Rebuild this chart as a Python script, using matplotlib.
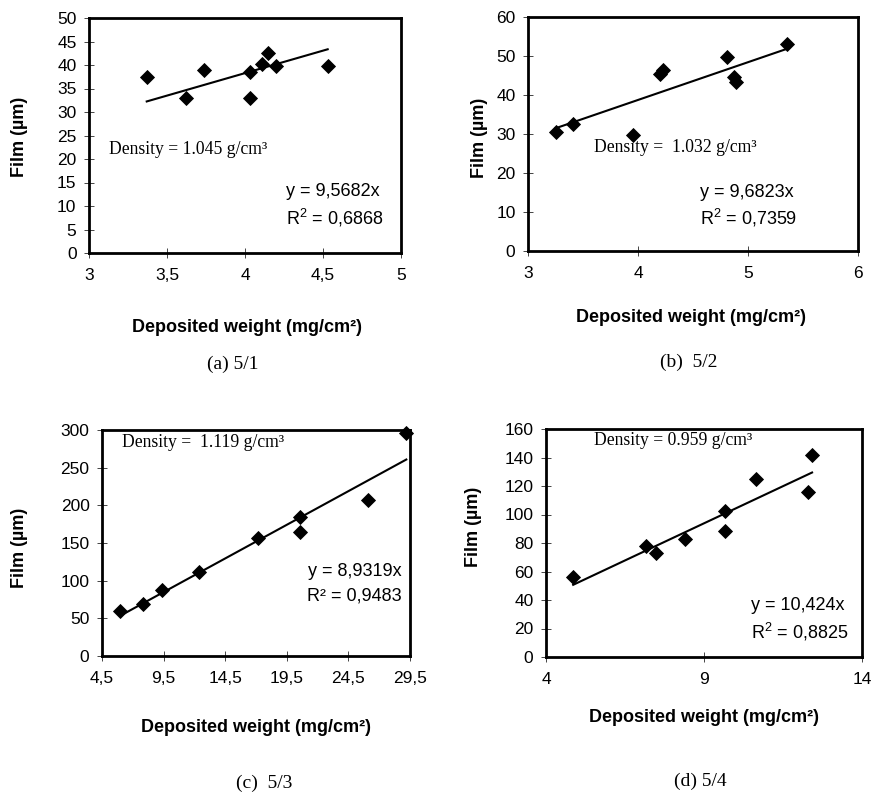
"""Film thickness vs deposited weight, four compositions (5/1 .. 5/4)."""

import matplotlib.pyplot as plt
import numpy as np
from matplotlib.ticker import FixedLocator, FuncFormatter

OUTPUT_PNG = "out.png"
FIG_W, FIG_H, DPI = 873, 792, 100

SANS = ["Liberation Sans", "DejaVu Sans"]
SERIF = ["Liberation Serif", "DejaVu Serif"]

XLABEL = "Deposited weight (mg/cm²)"
YLABEL = "Film (µm)"

# (a) 5/1
weight_a = [3.37, 3.62, 3.74, 4.03, 4.03, 4.11, 4.15, 4.20, 4.53]
film_a = [37.5, 33.0, 39.0, 38.5, 33.0, 40.3, 42.5, 39.8, 39.8]
slope_a = 9.5682
xticks_a = [3, 3.5, 4, 4.5, 5]
yticks_a = [0, 5, 10, 15, 20, 25, 30, 35, 40, 45, 50]
density_a = "Density = 1.045 g/cm³"
eq_a = "y = 9,5682x"
r2_a = r"$\mathregular{R^2}$ = 0,6868"
caption_a = "(a) 5/1"

# (b) 5/2
weight_b = [3.25, 3.41, 3.95, 4.20, 4.23, 4.81, 4.87, 4.89, 5.35]
film_b = [30.5, 32.6, 29.8, 45.3, 46.3, 49.8, 44.6, 43.4, 53.0]
slope_b = 9.6823
xticks_b = [3, 4, 5, 6]
yticks_b = [0, 10, 20, 30, 40, 50, 60]
density_b = "Density =  1.032 g/cm³"
eq_b = "y = 9,6823x"
r2_b = r"$\mathregular{R^2}$ = 0,7359"
caption_b = "(b)  5/2"

# (c) 5/3
weight_c = [6.0, 7.8, 9.4, 12.4, 17.2, 20.6, 20.6, 26.1, 29.2]
film_c = [60, 69, 87, 111, 157, 184, 164, 207, 296]
slope_c = 8.9319
xticks_c = [4.5, 9.5, 14.5, 19.5, 24.5, 29.5]
yticks_c = [0, 50, 100, 150, 200, 250, 300]
density_c = "Density =  1.119 g/cm³"
eq_c = "y = 8,9319x"
r2_c = "R² = 0,9483"
caption_c = "(c)  5/3"

# (d) 5/4
weight_d = [4.86, 7.18, 7.49, 8.39, 9.67, 9.67, 10.65, 12.28, 12.42]
film_d = [56, 78, 73, 83, 102.5, 88.5, 125, 116, 141.5]
slope_d = 10.424
xticks_d = [4, 9, 14]
yticks_d = [0, 20, 40, 60, 80, 100, 120, 140, 160]
density_d = "Density = 0.959 g/cm³"
eq_d = "y = 10,424x"
r2_d = r"$\mathregular{R^2}$ = 0,8825"
caption_d = "(d) 5/4"


def comma_fmt(v, _pos=None):
    return f"{v:g}".replace(".", ",")


def px_to_axes(box, px, py):
    left, top, right, bottom = box
    return (px - left) / (right - left), (bottom - py) / (bottom - top)


def draw_panel(fig, p):
    left, top, right, bottom = p["box"]
    ax = fig.add_axes([left / FIG_W, 1 - bottom / FIG_H,
                       (right - left) / FIG_W, (bottom - top) / FIG_H])
    x = np.asarray(p["x"], dtype=float)
    y = np.asarray(p["y"], dtype=float)

    xs = np.array([x.min(), x.max()])
    ax.plot(xs, p["slope"] * xs, color="black", lw=1.5, zorder=2)
    ax.plot(x, y, linestyle="none", marker="D", ms=7.4, mew=0.6,
            color="black", zorder=3, clip_on=False)

    ax.set_xlim(p["xticks"][0], p["xticks"][-1])
    ax.set_ylim(p["yticks"][0], p["yticks"][-1])
    ax.xaxis.set_major_locator(FixedLocator(p["xticks"]))
    ax.yaxis.set_major_locator(FixedLocator(p["yticks"]))
    ax.xaxis.set_major_formatter(FuncFormatter(comma_fmt))
    ax.yaxis.set_major_formatter(FuncFormatter(comma_fmt))
    ax.tick_params(axis="both", direction="inout", length=7, width=0.7,
                   color="#444444", labelsize=12.5)
    ax.tick_params(axis="x", pad=7)
    ax.tick_params(axis="y", pad=5.5)
    for lbl in ax.get_xticklabels() + ax.get_yticklabels():
        lbl.set_family(SANS)
    for sp in ax.spines.values():
        sp.set_linewidth(2)

    ax.text(*p["density_xy"], p["density"], family=SERIF, fontsize=12.7,
            ha="left", va="center")
    ex, ey, ry = p["eq_xy"]
    ha = p["eq_ha"]
    ax.text(ex, ey, p["eq"], family=SANS, fontsize=13, ha=ha, va="center")
    ax.text(ex, ry, p["r2"], family=SANS, fontsize=13, ha=ha, va="center")

    ax.set_xlabel(XLABEL, family=SANS, fontsize=13, fontweight="bold",
                  va="center", ha="center")
    ax.xaxis.set_label_coords(*px_to_axes(p["box"], *p["xlabel_px"]))
    ax.set_ylabel(YLABEL, family=SANS, fontsize=13, fontweight="bold",
                  va="center", ha="center")
    ax.yaxis.set_label_coords(*px_to_axes(p["box"], *p["ylabel_px"]))

    cx, cy = p["caption_px"]
    fig.text(cx / FIG_W, 1 - cy / FIG_H, p["caption"], family=SERIF,
             fontsize=14, ha="center", va="center")
    return ax


def main():
    panels = [
        dict(x=weight_a, y=film_a, slope=slope_a, xticks=xticks_a,
             yticks=yticks_a, density=density_a, eq=eq_a, r2=r2_a,
             caption=caption_a, box=(89, 18, 401, 253),
             density_xy=(3.13, 22), eq_xy=(4.26, 13.1, 7.4), eq_ha="left",
             xlabel_px=(247, 327), ylabel_px=(20, 137), caption_px=(233, 364)),
        dict(x=weight_b, y=film_b, slope=slope_b, xticks=xticks_b,
             yticks=yticks_b, density=density_b, eq=eq_b, r2=r2_b,
             caption=caption_b, box=(528, 17, 858, 251),
             density_xy=(3.60, 26.6), eq_xy=(4.56, 15, 8.6), eq_ha="left",
             xlabel_px=(691, 318), ylabel_px=(480, 138), caption_px=(689, 362)),
        dict(x=weight_c, y=film_c, slope=slope_c, xticks=xticks_c,
             yticks=yticks_c, density=density_c, eq=eq_c, r2=r2_c,
             caption=caption_c, box=(102, 430, 410, 656),
             density_xy=(6.13, 283.6), eq_xy=(28.8, 112.5, 79.4),
             eq_ha="right",
             xlabel_px=(256, 727), ylabel_px=(20, 548), caption_px=(264, 783)),
        dict(x=weight_d, y=film_d, slope=slope_d, xticks=xticks_d,
             yticks=yticks_d, density=density_d, eq=eq_d, r2=r2_d,
             caption=caption_d, box=(546, 429, 862, 657),
             density_xy=(5.52, 151.8), eq_xy=(10.49, 36.4, 17.6),
             eq_ha="left",
             xlabel_px=(704, 718), ylabel_px=(474, 527), caption_px=(700, 781)),
    ]

    fig = plt.figure(figsize=(FIG_W / DPI, FIG_H / DPI), dpi=DPI,
                     facecolor="white")
    for p in panels:
        draw_panel(fig, p)
    fig.savefig(OUTPUT_PNG, dpi=DPI, facecolor="white")


if __name__ == "__main__":
    main()
